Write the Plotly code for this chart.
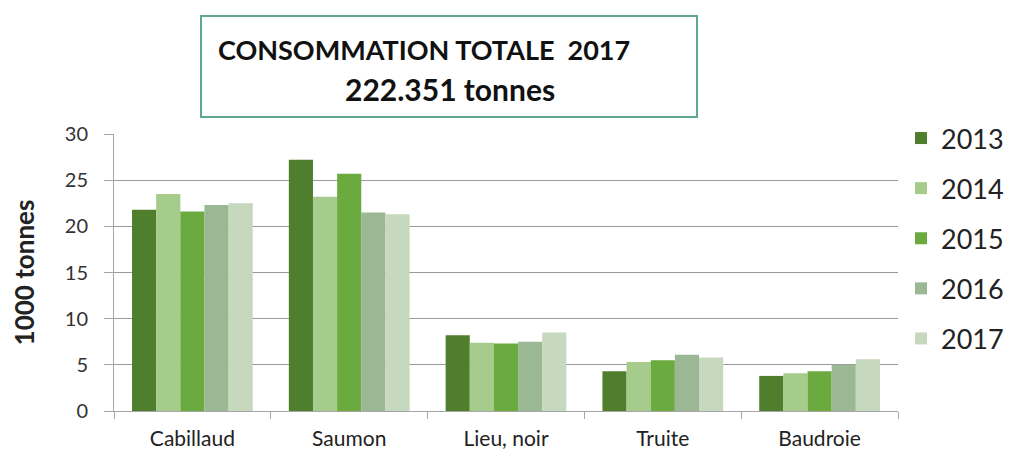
import plotly.graph_objects as go

categories = ["Cabillaud", "Saumon", "Lieu, noir", "Truite", "Baudroie"]
years = ["2013", "2014", "2015", "2016", "2017"]
values_2013 = [21.8, 27.2, 8.2, 4.3, 3.8]
values_2014 = [23.5, 23.2, 7.4, 5.3, 4.1]
values_2015 = [21.6, 25.7, 7.3, 5.5, 4.3]
values_2016 = [22.3, 21.5, 7.5, 6.1, 5.0]
values_2017 = [22.5, 21.3, 8.5, 5.8, 5.6]
series = [values_2013, values_2014, values_2015, values_2016, values_2017]
colors = ["#4f7f2c", "#a5cc8b", "#6aaa3f", "#9bb894", "#c6d8bd"]

title_line1 = "CONSOMMATION TOTALE  2017"
title_line2 = "222.351 tonnes"

fig = go.Figure()
for i, (yr, vals) in enumerate(zip(years, series)):
    fig.add_trace(go.Bar(
        x=categories, y=vals, name=yr, marker_color=colors[i],
        marker_line_width=0, legendgroup=yr,
    ))

OFF = 8  # page body margin
W, H = 1017 - OFF, 456 - OFF
L, R, T, B = 114 - OFF, 119, 134 - OFF, 45
pw = W - L - R
ph = H - T - B

def px_x(p):
    return (p - OFF - L) / pw

def px_y(p):
    return (H - B - (p - OFF)) / ph

fig.update_layout(
    width=W, height=H,
    margin=dict(l=L, r=R, t=T, b=B, autoexpand=False),
    paper_bgcolor="white", plot_bgcolor="white",
    barmode="group", bargap=0.23, bargroupgap=0,
    font=dict(family="Lato, Open Sans, sans-serif", color="#333333"),
    showlegend=True,
    legend=dict(
        x=px_x(901), y=px_y(114), xanchor="left", yanchor="top",
        font=dict(size=27, color="#222222"),
        tracegroupgap=12, itemwidth=30, maxheight=1.0,
        bgcolor="rgba(0,0,0,0)",
    ),
    xaxis=dict(
        showline=True, linecolor="#a6a6a6", linewidth=1,
        ticks="outside", tickson="boundaries", ticklen=7, tickcolor="#a6a6a6",
        tickfont=dict(size=21, color="#222222"),
        ticklabelstandoff=9, automargin=False,
        showgrid=False,
    ),
    yaxis=dict(
        range=[0, 30], dtick=5, tick0=0,
        showgrid=True, gridcolor="#9a9a9a", gridwidth=1,
        showline=True, linecolor="#a6a6a6", linewidth=1,
        ticks="outside", ticklen=9, tickcolor="#a6a6a6",
        tickfont=dict(size=20, color="#333333"),
        ticklabelstandoff=12, automargin=False,
        zeroline=False,
        title=dict(text="<b>1000 tonnes</b>", font=dict(size=26, color="#222222"), standoff=24),
    ),
    shapes=[dict(
        type="rect", xref="paper", yref="paper",
        x0=px_x(201), x1=px_x(697), y0=px_y(117), y1=px_y(16),
        line=dict(color="#5fa88c", width=2), fillcolor="white", layer="above",
    )],
    annotations=[
        dict(text="<b>" + title_line1 + "</b>", xref="paper", yref="paper",
             x=px_x(216), y=px_y(49), xanchor="left", yanchor="middle",
             showarrow=False, font=dict(size=27, color="#111111")),
        dict(text="<b>" + title_line2 + "</b>", xref="paper", yref="paper",
             x=px_x(450), y=px_y(89), xanchor="center", yanchor="middle",
             showarrow=False, font=dict(size=30, color="#111111")),
    ],
)

fig.write_html("out.html")
